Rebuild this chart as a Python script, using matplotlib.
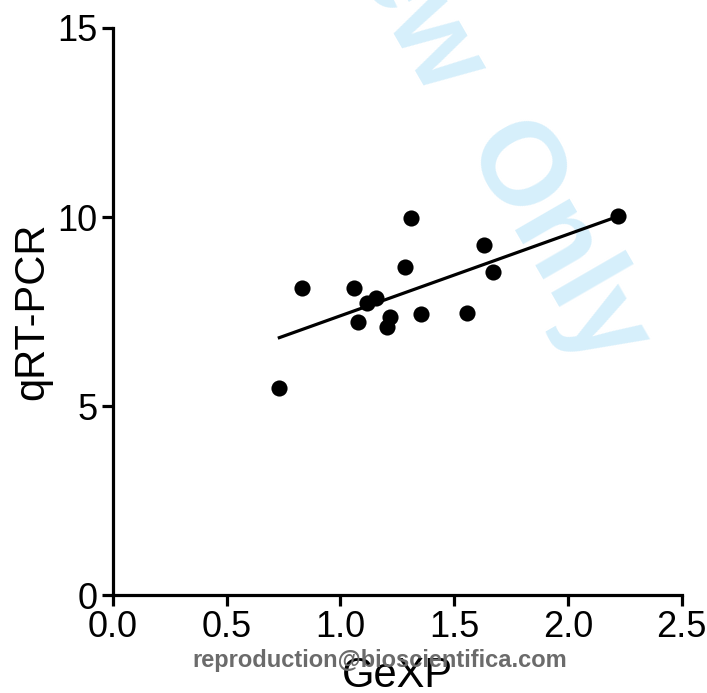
import numpy as np
import matplotlib
matplotlib.use("Agg")
import matplotlib.pyplot as plt

plt.rcParams['font.family'] = ['Liberation Sans', 'DejaVu Sans']

# GeXP vs qRT-PCR measurements
gexp = [0.731, 0.832, 1.060, 1.076, 1.118, 1.157, 1.218, 1.206,
        1.284, 1.310, 1.354, 1.557, 1.633, 1.672, 2.221]
qrtpcr = [5.48, 8.11, 8.13, 7.22, 7.73, 7.85, 7.35, 7.10,
          8.69, 9.98, 7.43, 7.46, 9.25, 8.54, 10.03]

x_ticks = [0.0, 0.5, 1.0, 1.5, 2.0, 2.5]
y_ticks = [0, 5, 10, 15]

x = np.array(gexp)
y = np.array(qrtpcr)
slope, intercept = np.polyfit(x, y, 1)
xf = np.array([x.min(), x.max()])

fig = plt.figure(figsize=(7.07, 6.93), dpi=100)
ax = fig.add_axes([0.160, 0.1414, 0.804, 0.8182])
ax.set_facecolor('none')

# watermark behind the data
wm_color = '#d6effb'
fig.text(462 / 707, 1 - 148 / 693, 'Only', fontsize=85, fontweight='bold',
         color=wm_color, rotation=-60, rotation_mode='anchor',
         ha='left', va='baseline', zorder=-5)
fig.text(431 / 707, 1 - 99 / 693, 'For Review', fontsize=85, fontweight='bold',
         color=wm_color, rotation=-60, rotation_mode='anchor',
         ha='right', va='baseline', zorder=-5)

ax.plot(xf, slope * xf + intercept, color='black', lw=2.3, zorder=2)
ax.scatter(x, y, s=135, color='black', zorder=3, linewidths=0)

ax.set_xlim(0, 2.5)
ax.set_ylim(0, 15)
ax.set_xticks(x_ticks)
ax.set_xticklabels([f'{t:.1f}' for t in x_ticks])
ax.set_yticks(y_ticks)
ax.set_yticklabels([str(t) for t in y_ticks])

for s in ['top', 'right']:
    ax.spines[s].set_visible(False)
for s in ['left', 'bottom']:
    ax.spines[s].set_linewidth(2.3)
ax.tick_params(width=2.3, length=8, labelsize=26, pad=3)

ax.set_xlabel('GeXP', fontsize=30, labelpad=8)
ax.set_ylabel('qRT-PCR', fontsize=30, labelpad=4)

fig.text(380 / 707, 1 - 660 / 693, 'reproduction@bioscientifica.com',
         fontsize=17, fontweight='bold', color='#6b6b6b',
         ha='center', va='center', zorder=10)

fig.savefig('out.png', dpi=100)
